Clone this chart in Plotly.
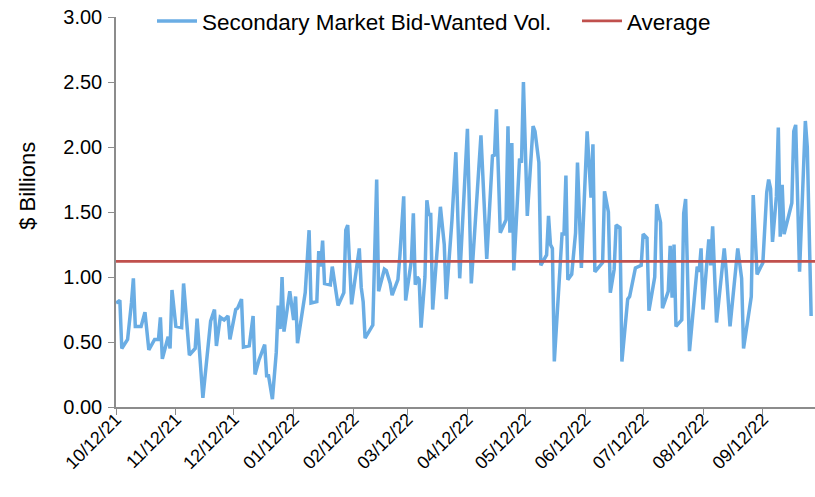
import pandas as pd
import plotly.graph_objects as go

# ---- data ----
START_DATE = "2021-10-12"
AXIS_END = "2022-10-09"
# calendar-day offsets from START_DATE of each plotted observation
day_offsets = [
    0, 2, 3, 6, 8, 9, 10, 13, 15, 17, 20, 22, 23, 24, 27, 28, 29, 31, 34, 35,
    38, 41, 42, 45, 49, 51, 52, 54, 56, 58, 59, 62, 63, 65, 66, 69, 71, 72, 74, 77,
    78, 79, 81, 83, 84, 85, 86, 87, 90, 92, 93, 94, 98, 100, 101, 104, 105, 106, 107, 108,
    111, 112, 115, 118, 119, 120, 122, 126, 127, 128, 129, 133, 135, 136, 139, 140, 142, 143, 146, 147,
    149, 150, 153, 154, 155, 156, 157, 158, 160, 161, 162, 163, 164, 168, 170, 171, 174, 176, 178, 182,
    184, 188, 189, 192, 195, 196, 197, 199, 202, 203, 204, 205, 206, 209, 210, 211, 213, 216, 217, 219,
    220, 223, 224, 225, 226, 227, 231, 232, 233, 234, 236, 238, 239, 241, 244, 246, 247, 248, 252, 253,
    255, 256, 258, 259, 261, 262, 265, 266, 269, 272, 273, 275, 276, 279, 280, 282, 283, 286, 287, 288,
    289, 290, 293, 294, 295, 297, 301, 302, 303, 304, 307, 308, 309, 311, 315, 316, 318, 322, 324, 325,
    329, 330, 332, 335, 337, 338, 339, 340, 342, 343, 344, 345, 346, 350, 351, 352, 354, 357, 358, 360,
]
bid_wanted_vol = [
    0.80, 0.82, 0.45, 0.52, 0.80, 0.99, 0.62, 0.62, 0.73, 0.44, 0.52, 0.52, 0.69, 0.37, 0.54, 0.45, 0.90, 0.62, 0.61, 0.95,
    0.40, 0.45, 0.68, 0.07, 0.66, 0.75, 0.47, 0.69, 0.67, 0.70, 0.52, 0.75, 0.76, 0.83, 0.46, 0.47, 0.70, 0.25, 0.36, 0.48,
    0.24, 0.24, 0.06, 0.42, 0.78, 0.60, 1.00, 0.58, 0.89, 0.67, 0.85, 0.49, 0.88, 1.36, 0.80, 0.81, 1.20, 1.08, 1.28, 0.95,
    0.94, 1.08, 0.78, 0.88, 1.36, 1.40, 0.79, 1.22, 0.92, 0.81, 0.53, 0.63, 1.75, 0.89, 1.06, 1.05, 0.95, 0.86, 0.98, 1.16,
    1.62, 0.82, 1.13, 1.49, 0.94, 1.00, 0.98, 0.61, 1.00, 1.59, 1.48, 1.48, 0.75, 1.54, 1.25, 0.83, 1.44, 1.96, 0.99, 2.14,
    0.95, 1.95, 2.09, 1.14, 1.94, 1.93, 2.29, 1.34, 1.44, 2.16, 1.34, 2.03, 1.05, 1.91, 1.88, 2.50, 1.47, 2.16, 2.12, 1.88,
    1.09, 1.17, 1.47, 1.25, 1.22, 0.35, 1.33, 1.33, 1.78, 0.98, 1.02, 1.34, 1.88, 1.07, 2.12, 1.61, 2.02, 1.04, 1.11, 1.66,
    1.50, 0.88, 1.06, 1.40, 1.38, 0.35, 0.83, 0.85, 1.07, 1.09, 1.33, 1.30, 0.74, 1.00, 1.56, 1.42, 0.76, 0.89, 1.24, 0.84,
    1.25, 0.62, 0.67, 1.49, 1.60, 0.43, 1.08, 1.04, 1.22, 0.75, 1.29, 1.09, 1.39, 0.65, 1.22, 1.05, 0.62, 1.22, 0.99, 0.45,
    0.85, 1.63, 1.02, 1.11, 1.65, 1.75, 1.68, 1.27, 1.62, 2.15, 1.31, 1.71, 1.33, 1.57, 2.12, 2.17, 1.04, 2.20, 2.00, 0.70,
]
AVERAGE = 1.12
tick_dates = ["2021-10-12", "2021-11-12", "2021-12-12", "2022-01-12", "2022-02-12", "2022-03-12",
              "2022-04-12", "2022-05-12", "2022-06-12", "2022-07-12", "2022-08-12", "2022-09-12"]
tick_labels = ["10/12/21", "11/12/21", "12/12/21", "01/12/22", "02/12/22", "03/12/22",
               "04/12/22", "05/12/22", "06/12/22", "07/12/22", "08/12/22", "09/12/22"]
y_ticks = [0, 0.5, 1.0, 1.5, 2.0, 2.5, 3.0]

dates = pd.Timestamp(START_DATE) + pd.to_timedelta(day_offsets, unit="D")

FONT = "Liberation Sans, Arial, sans-serif"
AXIS_COLOR = "#8C8C8C"

fig = go.Figure()
fig.add_trace(go.Scatter(
    x=dates, y=bid_wanted_vol, mode="lines",
    name="Secondary Market Bid-Wanted Vol.",
    line=dict(color="#6AADE4", width=3.5),
    legendwidth=370,
))
fig.add_trace(go.Scatter(
    x=[START_DATE, AXIS_END], y=[AVERAGE, AVERAGE], mode="lines",
    name="Average",
    line=dict(color="#C0504D", width=2.8),
))

fig.update_layout(
    width=815, height=497,
    margin=dict(l=116, r=0, t=17, b=90, autoexpand=False),
    paper_bgcolor="white", plot_bgcolor="white",
    font=dict(family=FONT, size=20, color="black"),
    hovermode=False,
    showlegend=True,
    legend=dict(
        orientation="h", x=0.0515, xanchor="left", y=1.044, yanchor="top",
        bgcolor="rgba(0,0,0,0)", font=dict(size=22.5), itemwidth=40,
    ),
    xaxis=dict(
        type="date", range=[START_DATE, AXIS_END], automargin=False,
        tickmode="array", tickvals=tick_dates, ticktext=tick_labels,
        tickangle=-45, ticks="outside", ticklen=6, tickcolor=AXIS_COLOR,
        ticklabelstandoff=-13, ticklabeloverflow="allow",
        showline=True, linecolor=AXIS_COLOR, linewidth=1.5,
        showgrid=False, zeroline=False,
        tickfont=dict(size=18),
    ),
    yaxis=dict(
        range=[0, 3], tickvals=y_ticks, tickformat=".2f", automargin=False,
        ticks="outside", ticklen=6, tickcolor=AXIS_COLOR,
        ticklabelstandoff=2, ticklabeloverflow="allow",
        showline=True, linecolor=AXIS_COLOR, linewidth=1.5,
        showgrid=False, zeroline=False,
        tickfont=dict(size=20),
    ),
    annotations=[dict(
        text="$ Billions", textangle=-90, showarrow=False,
        xref="paper", yref="paper", x=-0.1259, y=0.567,
        xanchor="center", yanchor="middle", font=dict(size=22),
    )],
)

# remove the default page margin so the figure fills the browser window exactly
fig.write_html(
    "out.html",
    config={"displayModeBar": False},
    post_script="document.body.style.margin='0px'; document.body.style.overflow='hidden';",
)
